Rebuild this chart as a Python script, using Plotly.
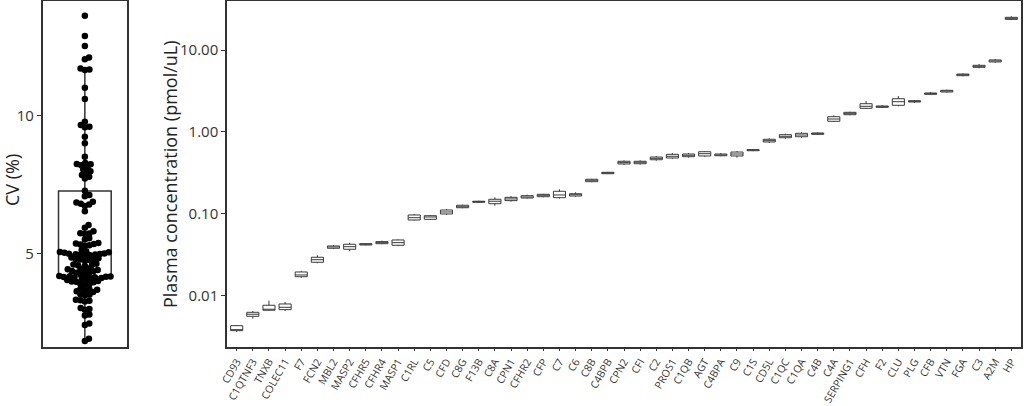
import numpy as np
import plotly.graph_objects as go

# ---------------- data: right panel (plasma concentration, pmol/uL) ----------------
proteins = ["CD93", "C1QTNF3", "TNXB", "COLEC11", "F7", "FCN2", "MBL2", "MASP2", "CFHR5", "CFHR4",
            "MASP1", "C1RL", "C5", "CFD", "C8G", "F13B", "C8A", "CPN1", "CFHR2", "CFP",
            "C7", "C6", "C8B", "C4BPB", "CPN2", "CFI", "C2", "PROS1", "C1QB", "AGT",
            "C4BPA", "C9", "C1S", "CD5L", "C1QC", "C1QA", "C4B", "C4A", "SERPING1", "CFH",
            "F2", "CLU", "PLG", "CFB", "VTN", "FGA", "C3", "A2M", "HP"]

conc_low = [0.00356, 0.00518, 0.00643, 0.00643, 0.01641, 0.02461, 0.03684, 0.03451, 0.04080, 0.04207,
            0.03973, 0.08171, 0.08330, 0.0960, 0.1159, 0.1346, 0.1246, 0.1396, 0.1520, 0.1578,
            0.1519, 0.1606, 0.2418, 0.3030, 0.3925, 0.3959, 0.4420, 0.4640, 0.4819, 0.4955,
            0.5008, 0.4819, 0.5770, 0.7290, 0.8225, 0.8452, 0.9122, 1.318, 1.589, 1.898,
            1.953, 2.048, 2.269, 2.815, 3.005, 4.77, 5.97, 7.00, 23.2]
conc_q1 = [0.00369, 0.00553, 0.00656, 0.00667, 0.01687, 0.02533, 0.03758, 0.03655, 0.04121, 0.04276,
           0.04087, 0.08330, 0.08495, 0.0987, 0.1177, 0.1371, 0.1318, 0.1437, 0.1548, 0.1606,
           0.1563, 0.1637, 0.2450, 0.3069, 0.4035, 0.4066, 0.4547, 0.4775, 0.4955, 0.5057,
           0.5093, 0.5057, 0.5868, 0.7499, 0.8452, 0.8690, 0.9310, 1.342, 1.617, 1.936,
           1.990, 2.107, 2.312, 2.871, 3.061, 4.851, 6.14, 7.14, 23.7]
conc_median = [0.00379, 0.00586, 0.00661, 0.00713, 0.01771, 0.02723, 0.03898, 0.03930, 0.04207, 0.04399,
               0.04399, 0.08891, 0.09070, 0.1044, 0.1211, 0.1396, 0.1413, 0.1508, 0.1592, 0.1670,
               0.1686, 0.1698, 0.2549, 0.3130, 0.4189, 0.4237, 0.4729, 0.5008, 0.5152, 0.5390,
               0.5198, 0.5345, 0.5985, 0.7780, 0.8799, 0.9122, 0.9468, 1.432, 1.681, 2.048,
               2.024, 2.332, 2.355, 2.922, 3.150, 4.985, 6.32, 7.35, 24.43]
conc_q3 = [0.00425, 0.00619, 0.00755, 0.00783, 0.01927, 0.02917, 0.04010, 0.04207, 0.04276, 0.04529,
           0.04747, 0.09597, 0.09402, 0.1104, 0.1262, 0.1413, 0.1494, 0.1578, 0.1652, 0.1718,
           0.1871, 0.1746, 0.2624, 0.3192, 0.4355, 0.4355, 0.4909, 0.5297, 0.5345, 0.5700,
           0.5345, 0.5649, 0.6040, 0.8092, 0.9205, 0.9571, 0.9660, 1.528, 1.729, 2.203,
           2.066, 2.535, 2.399, 2.980, 3.214, 5.08, 6.50, 7.56, 25.1]
conc_high = [0.00433, 0.00643, 0.00859, 0.00828, 0.01982, 0.03084, 0.0409, 0.04399, 0.04318, 0.04658,
             0.04838, 0.09868, 0.09597, 0.1136, 0.1284, 0.1437, 0.1578, 0.1637, 0.1700, 0.1742,
             0.1978, 0.1819, 0.2661, 0.3238, 0.4481, 0.4481, 0.5049, 0.5495, 0.5495, 0.5820,
             0.5495, 0.5820, 0.6160, 0.8323, 0.9468, 0.9845, 0.9845, 1.589, 1.759, 2.377,
             2.107, 2.736, 2.443, 3.037, 3.27, 5.175, 6.75, 7.77, 25.85]

conc_tickvals = [0.01, 0.1, 1, 10]
conc_ticktext = ["0.01", "0.10", "1.00", "10.00"]

# ---------------- data: left panel (CV %) ----------------
cv_values = [13.63, 12.90, 12.53, 12.12, 12.05, 11.72, 11.68, 11.66, 11.02, 10.61,
             9.78, 9.66, 9.60, 9.58, 9.24, 9.00, 8.51,
             8.28, 8.25, 8.24, 8.20, 8.12, 8.05, 7.98, 7.92, 7.85, 7.78, 7.72,
             7.28, 7.12, 7.08,
             6.88, 6.85, 6.80, 6.78, 6.72, 6.53,
             6.03, 5.93, 5.80,
             5.73, 5.72, 5.70, 5.55, 5.50,
             5.38, 5.36, 5.34, 5.32, 5.30, 5.28,
             5.12, 5.08, 5.05, 5.04, 5.02, 5.00, 4.99, 4.98, 4.97, 4.96, 4.95, 4.94, 4.92,
             4.85, 4.82, 4.80, 4.80, 4.78, 4.76, 4.74,
             4.62, 4.60, 4.58, 4.57, 4.55,
             4.45, 4.43, 4.42, 4.40, 4.38, 4.36, 4.35,
             4.30, 4.28, 4.26,
             4.20, 4.18, 4.17, 4.16, 4.15, 4.14, 4.13, 4.12, 4.11, 4.10, 4.08,
             4.03, 4.02, 4.00, 3.98, 3.97, 3.95,
             3.90, 3.88, 3.86,
             3.72, 3.70, 3.68, 3.66, 3.62, 3.60,
             3.52, 3.50, 3.48,
             3.32, 3.30, 3.28, 3.25,
             3.02, 2.98, 2.95,
             2.78, 2.74,
             2.45, 2.40,
             1.90, 1.82]
cv_q1 = [4.15]
cv_median = [4.98]
cv_q3 = [7.27]
cv_low = [1.82]
cv_high = [11.72]
cv_tickvals = [5, 10]

# ---------------- geometry (layout) ----------------
W, H = 1024, 406
left_dom = [42.7 / W, 127.0 / W]
right_dom = [227.0 / W, 1021.0 / W]
y_dom = [1 - 346.7 / H, 1 - 0.7 / H]
cv_range = [1.61, 14.18]
conc_range = [-2.629, 1.603]

# beeswarm layout computed from the values (pixel space)
plot_h_px = (y_dom[1] - y_dom[0]) * H
panel_w_px = (left_dom[1] - left_dom[0]) * W
px_per_unit_y = plot_h_px / (cv_range[1] - cv_range[0])
px_per_unit_x = panel_w_px / 2.0  # x range [-1, 1]
d = 4.6  # collision distance in px

order = np.argsort(cv_values)
ypx = np.array(cv_values) * px_per_unit_y
xpx = np.zeros(len(cv_values))
placed = []
for idx in order:
    yi = ypx[idx]
    cands = [0.0]
    for j in placed:
        dy = yi - ypx[j]
        if abs(dy) < d:
            dx = np.sqrt(d * d - dy * dy)
            cands += [xpx[j] + dx, xpx[j] - dx]
    cands = sorted(cands, key=lambda c: (abs(c), -c))
    for c in cands:
        ok = True
        for j in placed:
            if (c - xpx[j]) ** 2 + (yi - ypx[j]) ** 2 < d * d - 1e-6:
                ok = False
                break
        if ok:
            xpx[idx] = c
            break
    placed.append(idx)
cv_x = xpx / px_per_unit_x

fig = go.Figure()

fig.add_trace(go.Box(
    x=[0], q1=cv_q1, median=cv_median, q3=cv_q3, lowerfence=cv_low, upperfence=cv_high,
    width=1.25, fillcolor="rgba(255,255,255,0)", line=dict(color="#333333", width=1.5),
    whiskerwidth=0, boxpoints=False, showlegend=False, hoverinfo="skip",
    xaxis="x", yaxis="y"))

fig.add_trace(go.Scatter(
    x=cv_x, y=cv_values, mode="markers",
    marker=dict(color="black", size=6.5, line=dict(width=0)),
    showlegend=False, xaxis="x", yaxis="y"))

fig.add_trace(go.Box(
    x=proteins, q1=conc_q1, median=conc_median, q3=conc_q3,
    lowerfence=conc_low, upperfence=conc_high,
    width=0.75, fillcolor="white", line=dict(color="#3a3a3a", width=1),
    whiskerwidth=0, boxpoints=False, showlegend=False,
    xaxis="x2", yaxis="y2"))

axis_common = dict(showline=True, mirror=True, linecolor="#333333", linewidth=1.5,
                   showgrid=False, zeroline=False, automargin=False)
tickfont = dict(family="Open Sans", size=15, color="#333333")

fig.update_layout(
    width=W, height=H, template="none",
    margin=dict(l=0, r=0, t=0, b=0),
    paper_bgcolor="white", plot_bgcolor="white",
    xaxis=dict(domain=left_dom, range=[-1, 1], showticklabels=False, ticks="",
               anchor="y", **axis_common),
    yaxis=dict(domain=y_dom, range=cv_range, tickvals=cv_tickvals, ticks="outside",
               ticklen=4, tickwidth=1, tickcolor="#333333", tickfont=tickfont,
               anchor="x", **axis_common),
    xaxis2=dict(domain=right_dom, range=[-0.6, len(proteins) - 0.4], type="category",
                categoryorder="array", categoryarray=proteins,
                tickangle=-60, ticks="outside", ticklen=3, tickwidth=1, tickcolor="#333333",
                tickfont=dict(family="Open Sans", size=10.5, color="#333333"),
                anchor="y2", **axis_common),
    yaxis2=dict(domain=y_dom, type="log", range=conc_range, tickvals=conc_tickvals,
                ticktext=conc_ticktext, ticks="outside", ticklen=4, tickwidth=1,
                tickcolor="#333333", tickfont=tickfont, anchor="x2", **axis_common),
    annotations=[
        dict(text="CV (%)", x=12 / W, y=1 - 180 / H, xref="paper", yref="paper",
             textangle=-90, showarrow=False, xanchor="center", yanchor="middle",
             font=dict(family="Open Sans", size=18, color="#222222")),
        dict(text="Plasma concentration (pmol/uL)", x=170 / W, y=1 - 174 / H,
             xref="paper", yref="paper", textangle=-90, showarrow=False,
             xanchor="center", yanchor="middle",
             font=dict(family="Open Sans", size=18, color="#222222")),
    ],
)

fig.write_html("out.html", config={"displayModeBar": False},
               post_script="document.body.style.margin='0';document.body.style.overflow='hidden';")
